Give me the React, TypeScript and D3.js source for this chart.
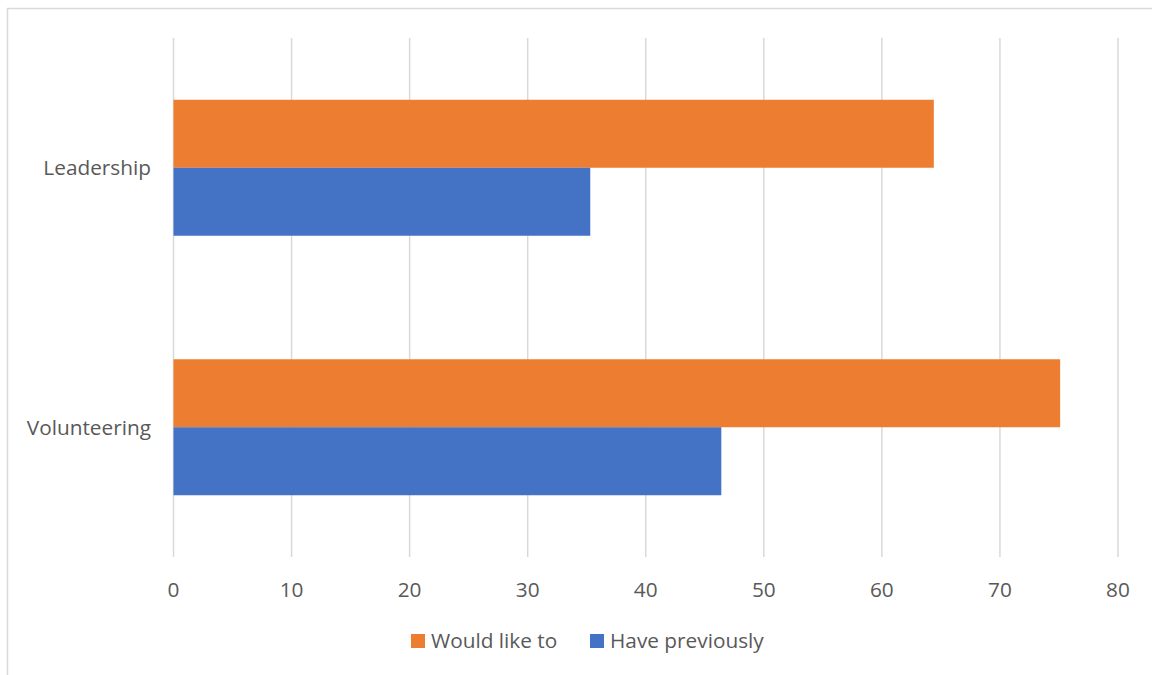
import React from 'react';
import * as d3 from 'd3';

const categories = ['Leadership', 'Volunteering'];
const seriesNames = ['Would like to', 'Have previously'];
const wouldLikeTo = [64.4, 75.1];
const havePreviously = [35.3, 46.4];
const xTicks = [0, 10, 20, 30, 40, 50, 60, 70, 80];
const colors = ['#ED7D31', '#4472C4'];

const W = 1152;
const H = 675;
const FONT = '"Open Sans", sans-serif';
const FS = 20.8;

const App: React.FC = () => {
  const x = d3.scaleLinear().domain([0, 80]).range([173.5, 1118]);
  const y = d3.scaleBand<string>().domain(categories).range([38, 557]).paddingInner(0).paddingOuter(0);
  const barH = 68;

  const series = [wouldLikeTo, havePreviously];

  return (
    <svg width={W} height={H} style={{ position: 'absolute', left: 0, top: 0, background: '#fff' }}>
      {/* chart frame, runs off the page on the right and bottom */}
      <rect x={7.5} y={8.5} width={W + 20} height={H + 20} fill="#fff" stroke="#D9D9D9" strokeWidth={1.5} />

      {xTicks.map(t => (
        <line key={t} x1={x(t)} x2={x(t)} y1={38} y2={557} stroke="#D9D9D9" strokeWidth={1.5} />
      ))}

      {categories.map((c, i) => {
        const mid = (y(c) as number) + y.bandwidth() / 2;
        return (
          <g key={c}>
            {series.map((vals, s) => (
              <rect
                key={s}
                x={x(0)}
                y={mid - barH + s * barH}
                width={x(vals[i]) - x(0)}
                height={barH}
                fill={colors[s]}
              />
            ))}
            <text x={151} y={mid} dy="0.35em" textAnchor="end" fontFamily={FONT} fontSize={FS} fill="#595959">
              {c}
            </text>
          </g>
        );
      })}

      {xTicks.map(t => (
        <text key={t} x={x(t)} y={590} dy="0.35em" textAnchor="middle" fontFamily={FONT} fontSize={FS} fill="#595959">
          {t}
        </text>
      ))}

      <g fontFamily={FONT} fontSize={FS} fill="#595959">
        <rect x={411} y={634} width={14} height={14} fill={colors[0]} />
        <text x={431} y={641} dy="0.35em">{seriesNames[0]}</text>
        <rect x={590} y={634} width={14} height={14} fill={colors[1]} />
        <text x={610} y={641} dy="0.35em">{seriesNames[1]}</text>
      </g>
    </svg>
  );
};

export default App;
